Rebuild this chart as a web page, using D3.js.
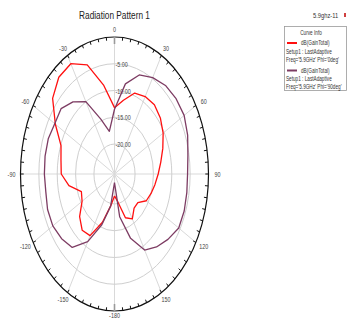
<!DOCTYPE html>
<html>
<head>
<meta charset="utf-8">
<script src="https://cdn.jsdelivr.net/npm/d3@7"></script>
<style>
  html, body { margin: 0; padding: 0; background: #fff; }
  svg { display: block; }
  text { font-family: "Liberation Sans", Arial, sans-serif; }
</style>
</head>
<body>
<svg id="chart" width="348" height="321"></svg>
<script>
// Theta angles in degrees (0 at top, clockwise positive)
const thetaDeg = [-180, -170, -160, -150, -140, -130, -120, -110, -100, -90,
  -80, -70, -60, -50, -40, -30, -20, -10, 0, 10, 20, 30, 40, 50, 60, 70, 80,
  90, 100, 110, 120, 130, 140, 150, 160, 170, 180];

// dB(GainTotal), Phi = 0deg
const gainPhi0 = [-21.5, -19.5, -16.0, -12.3, -11.9, -13.2, -15.4, -16.0, -13.0, -11.1,
  -10.8, -10.1, -7.0, -3.6, -2.0, -1.8, -3.9, -8.8, -13.2, -11.6, -9.5, -8.9, -8.7, -9.3,
  -10.3, -11.6, -12.8, -13.7, -14.4, -15.0, -15.6, -17.3, -17.3, -15.9, -16.9, -20.3, -21.5];

// dB(GainTotal), Phi = 90deg
const gainPhi90 = [-24.0, -19.5, -15.5, -11.0, -7.7, -6.8, -6.2, -6.2, -6.6, -6.5,
  -6.4, -6.4, -6.8, -6.6, -8.0, -10.0, -14.7, -17.5, -13.5, -8.5, -5.9, -4.8, -4.0, -3.7,
  -3.7, -4.4, -5.3, -5.7, -5.6, -5.4, -5.4, -6.6, -7.8, -9.2, -12.8, -17.5, -24.0];

const ringValues = [-20, -15, -10, -5];
const ringLabels = ["-20.00", "-15.00", "-10.00", "-5.00"];
const spokeAngles = [0, 30, 60, 90, 120, 150, 180, 210, 240, 270, 300, 330];
const angleLabels = ["0", "30", "60", "90", "120", "150", "-180", "-150", "-120", "-90", "-60", "-30"];

const seriesNames = ["dB(GainTotal)", "dB(GainTotal)"];
const setupNames = ["Setup1 : LastAdaptive", "Setup1 : LastAdaptive"];
const freqNames = ["Freq='5.9GHz' Phi='0deg'", "Freq='5.9GHz' Phi='90deg'"];
const seriesColors = ["#ff1010", "#7d3c63"];

const svg = d3.select("#chart");
const cx = 114.5, cy = 174, rx = 94, ry = 137;
const squeeze = 0.72;

// radial scale: dB value -> fraction of the outer radius
const r = d3.scaleLinear().domain([-25.6, 0]).range([0, 1]);
const toRad = d => d * Math.PI / 180;
const px = (deg, f) => cx + rx * f * Math.sin(toRad(deg));
const py = (deg, f) => cy - ry * f * Math.cos(toRad(deg));

// text drawn narrower horizontally, anchored at (x, y)
function sText(g, x, y, str, size, anchor, fill) {
  return g.append("text")
    .attr("transform", `translate(${x},${y}) scale(${squeeze},1)`)
    .attr("text-anchor", anchor)
    .attr("font-size", size)
    .attr("fill", fill || "#333")
    .text(str);
}

// Title
sText(svg, cx, 19, "Radiation Pattern 1", 11.5, "middle", "#222");

const grid = svg.append("g");

// spokes
grid.selectAll("line.spoke").data(spokeAngles).join("line")
  .attr("class", "spoke")
  .attr("x1", cx).attr("y1", cy)
  .attr("x2", d => px(d, 1)).attr("y2", d => py(d, 1))
  .attr("stroke", "#d9d9d9").attr("stroke-width", 1);

// rings
grid.selectAll("ellipse.ring").data(ringValues).join("ellipse")
  .attr("class", "ring")
  .attr("cx", cx).attr("cy", cy)
  .attr("rx", d => rx * r(d)).attr("ry", d => ry * r(d))
  .attr("fill", "none").attr("stroke", "#cfcfcf").attr("stroke-width", 1);

// outer boundary
grid.append("ellipse")
  .attr("cx", cx).attr("cy", cy).attr("rx", rx).attr("ry", ry)
  .attr("fill", "none").attr("stroke", "#111").attr("stroke-width", 1.2);

// boundary ticks every 5 degrees
const tickAngles = d3.range(0, 360, 5);
grid.selectAll("line.tick").data(tickAngles).join("line")
  .attr("class", "tick")
  .attr("x1", d => px(d, 1)).attr("y1", d => py(d, 1))
  .attr("x2", d => px(d, 1) - 3.2 * Math.sin(toRad(d)))
  .attr("y2", d => py(d, 1) + 3.2 * Math.cos(toRad(d)))
  .attr("stroke", "#111").attr("stroke-width", 1);

// gray marks at 0 and 180
grid.selectAll("line.axisMark").data([0, 180]).join("line")
  .attr("class", "axisMark")
  .attr("x1", d => px(d, 1)).attr("y1", d => py(d, 1) + (d === 0 ? 7 : -7))
  .attr("x2", d => px(d, 1)).attr("y2", d => py(d, 1) + (d === 0 ? -1 : 1))
  .attr("stroke", "#9a9a9a").attr("stroke-width", 1.6);

// ring labels
ringValues.forEach((v, i) => {
  sText(grid, cx + 1, cy - ry * r(v) + 3, ringLabels[i], 7.5, "start", "#444");
});

// angle labels
spokeAngles.forEach((a, i) => {
  const x = cx + (rx + 9) * Math.sin(toRad(a));
  const y = Math.min(cy - (ry + 8) * Math.cos(toRad(a)) + 2.5, 318);
  sText(grid, x, y, angleLabels[i], 7.5, "middle", "#444");
});

// pattern curves
const line = d3.line()
  .x((d, i) => px(thetaDeg[i], r(d)))
  .y((d, i) => py(thetaDeg[i], r(d)));

[gainPhi0, gainPhi90].forEach((vals, k) => {
  svg.append("path")
    .datum(vals)
    .attr("d", line)
    .attr("fill", "none")
    .attr("stroke", seriesColors[k])
    .attr("stroke-width", 1.3)
    .attr("stroke-linejoin", "round");
});

// legend
const lg = svg.append("g");
sText(lg, 313, 18, "5.9ghz-11", 8, "start", "#333");
lg.append("rect").attr("x", 344).attr("y", 13).attr("width", 2).attr("height", 4).attr("fill", "#d04040");
lg.append("rect")
  .attr("x", 284.5).attr("y", 26.5).attr("width", 62).attr("height", 64)
  .attr("fill", "#fff").attr("stroke", "#9a9a9a").attr("stroke-width", 0.8);
sText(lg, 311, 35, "Curve Info", 6.5, "middle", "#333");
[0, 1].forEach(k => {
  const y0 = 45 + k * 27.5;
  lg.append("line")
    .attr("x1", 287).attr("x2", 297).attr("y1", y0 - 2).attr("y2", y0 - 2)
    .attr("stroke", seriesColors[k]).attr("stroke-width", 2);
  sText(lg, 301, y0, seriesNames[k], 6.5, "start", "#333");
  sText(lg, 286, y0 + 8.5, setupNames[k], 6.5, "start", "#333");
  sText(lg, 286, y0 + 16.5, freqNames[k], 6.5, "start", "#333");
});
</script>
</body>
</html>
